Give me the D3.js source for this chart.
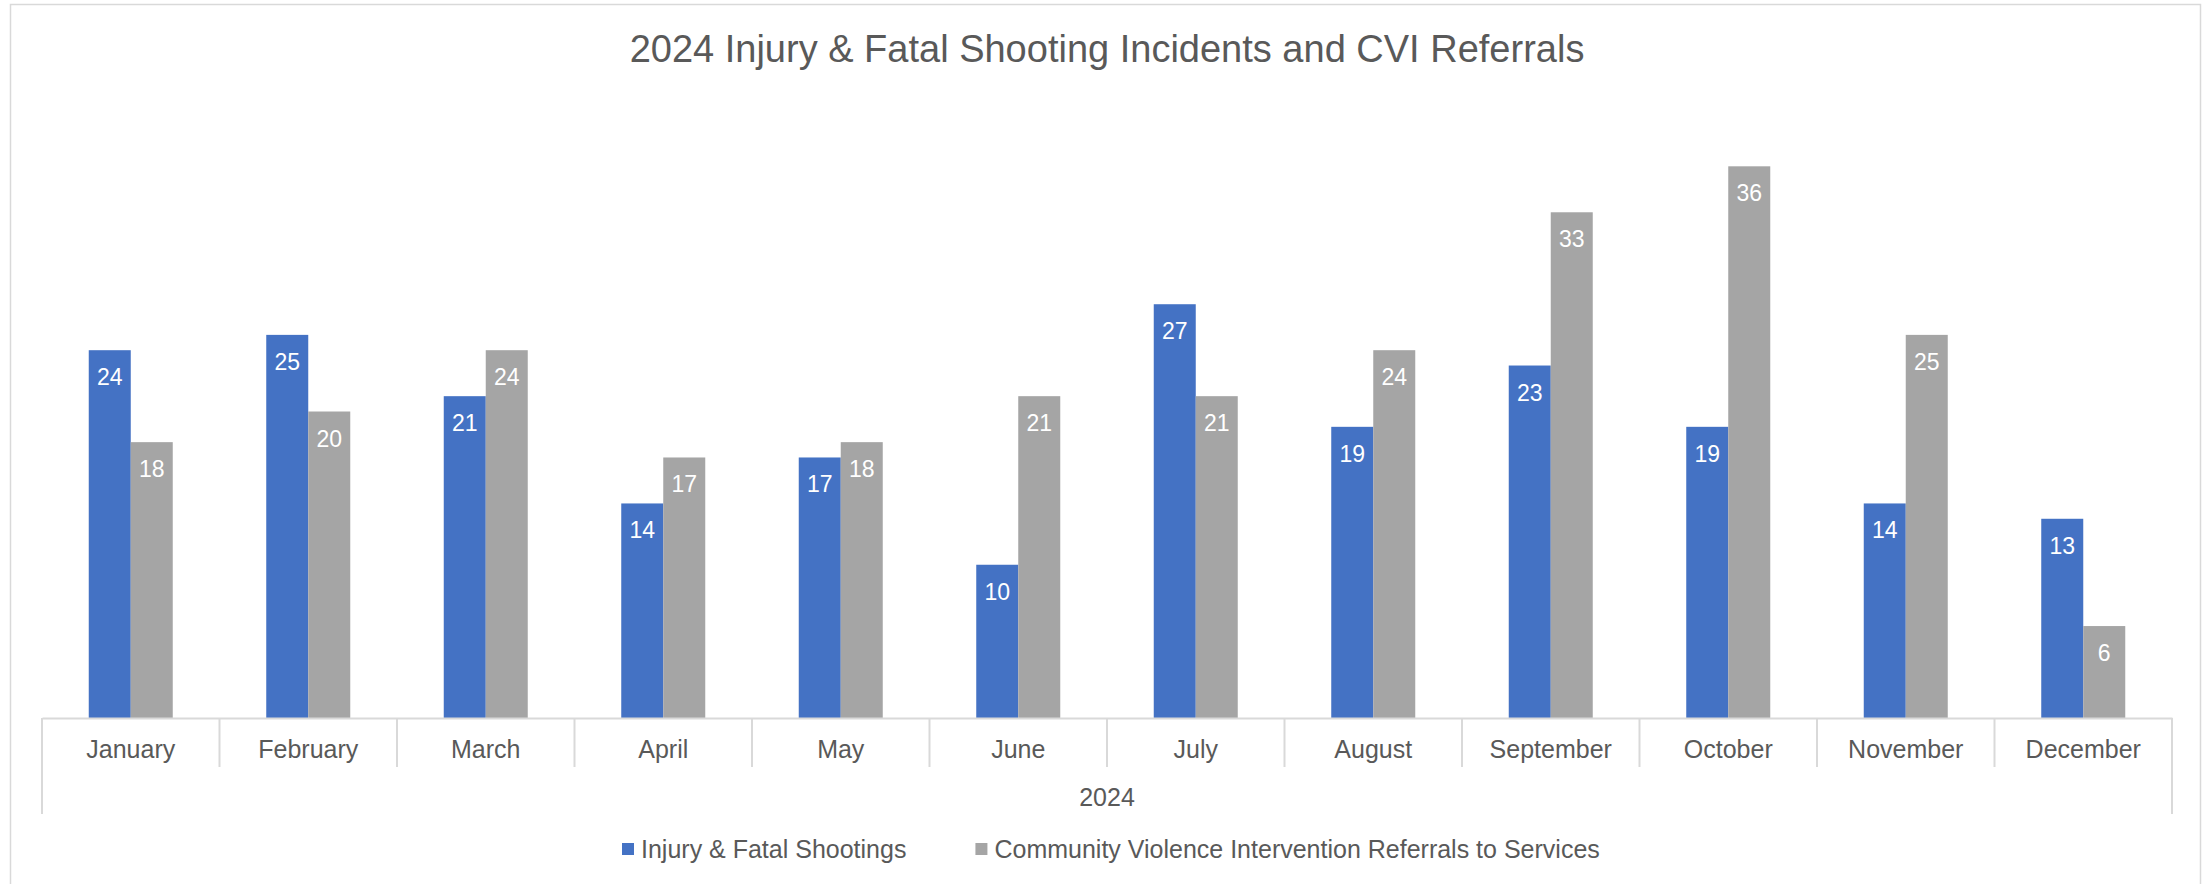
<!DOCTYPE html>
<html>
<head>
<meta charset="utf-8">
<script src="https://cdn.jsdelivr.net/npm/d3@7"></script>
<style>
  body { margin: 0; background: #fff; }
  svg text { font-family: "Liberation Sans", Arial, sans-serif; }
</style>
</head>
<body>
<div id="chart"></div>
<script>
// chart values
let months = ["January", "February", "March", "April", "May", "June",
    "July", "August", "September", "October", "November", "December"]
let shootings = [24, 25, 21, 14, 17, 10, 27, 19, 23, 19, 14, 13]
let referrals = [18, 20, 24, 17, 18, 21, 21, 24, 33, 36, 25, 6]
let seriesNames = ["Injury & Fatal Shootings", "Community Violence Intervention Referrals to Services"]
let seriesColors = ["#4472C4", "#A5A5A5"]
let yearLabel = "2024"
let chartTitle = "2024 Injury & Fatal Shooting Incidents and CVI Referrals"

let width = 2208, height = 884
let padding = { left: 42, right: 36, top: 105, baseline: 718 }

let svg = d3.select("#chart").append("svg")
    .attr("width", width).attr("height", height)

// outer chart border
svg.append("rect")
    .attr("x", 10.5).attr("y", 4.5)
    .attr("width", 2190).attr("height", 900)
    .attr("fill", "none").attr("stroke", "#d9d9d9").attr("stroke-width", 1.5)

// title
svg.append("text")
    .attr("x", 1107).attr("y", 62)
    .attr("text-anchor", "middle")
    .attr("font-size", 38)
    .attr("fill", "#595959")
    .text(chartTitle)

// scales
let x0 = d3.scaleBand().domain(months)
    .range([padding.left, width - padding.right])
    .paddingInner(0).paddingOuter(0)
let x1 = d3.scaleBand().domain([0, 1])
    .range([0, x0.bandwidth()])
    .paddingInner(0).paddingOuter(1.113)
let y = d3.scaleLinear().domain([0, 40]).range([padding.baseline, padding.top])

let rows = months.map(function(m, i) { return { month: m, values: [shootings[i], referrals[i]] } })

let groups = svg.selectAll(".month-group")
    .data(rows)
    .enter().append("g")
    .attr("class", "month-group")
    .attr("transform", function(d) { return `translate(${x0(d.month)},0)` })

groups.selectAll("rect")
    .data(function(d) { return d.values.map(function(v, s) { return { s: s, v: v } }) })
    .enter().append("rect")
    .attr("x", function(d) { return x1(d.s) })
    .attr("width", x1.bandwidth())
    .attr("y", function(d) { return y(d.v) })
    .attr("height", function(d) { return y(0) - y(d.v) })
    .attr("fill", function(d) { return seriesColors[d.s] })

// data labels, inside end
groups.selectAll(".bar-label")
    .data(function(d) { return d.values.map(function(v, s) { return { s: s, v: v } }) })
    .enter().append("text")
    .attr("class", "bar-label")
    .attr("x", function(d) { return x1(d.s) + x1.bandwidth() / 2 })
    .attr("y", function(d) { return y(d.v) + 35 })
    .attr("text-anchor", "middle")
    .attr("font-size", 23)
    .attr("fill", "#fff")
    .text(function(d) { return d.v })

// category axis (two levels)
let xAxis = d3.axisBottom(x0).tickSize(0).tickPadding(0)
let axisG = svg.append("g")
    .attr("transform", `translate(0,${padding.baseline})`)
    .call(xAxis)
axisG.select(".domain").attr("stroke", "#d9d9d9").attr("stroke-width", 2)
axisG.selectAll(".tick text")
    .attr("y", 40)
    .attr("dy", 0)
    .attr("font-size", 25)
    .attr("font-family", "Liberation Sans, Arial, sans-serif")
    .attr("fill", "#595959")

// dividers between months
let edges = months.map(function(m) { return x0(m) }).concat([x0.range()[1]])
svg.selectAll(".divider")
    .data(edges)
    .enter().append("line")
    .attr("class", "divider")
    .attr("x1", function(d) { return d }).attr("x2", function(d) { return d })
    .attr("y1", padding.baseline)
    .attr("y2", function(d, i) { return (i == 0 || i == edges.length - 1) ? 814 : 767 })
    .attr("stroke", "#d9d9d9").attr("stroke-width", 2)

// year label
svg.append("text")
    .attr("x", (x0.range()[0] + x0.range()[1]) / 2)
    .attr("y", 806)
    .attr("text-anchor", "middle")
    .attr("font-size", 25)
    .attr("fill", "#595959")
    .text(yearLabel)

// legend
let legend = svg.append("g").attr("transform", "translate(622,0)")
let lx = 0
seriesNames.forEach(function(name, i) {
    legend.append("rect")
        .attr("x", lx).attr("y", 843)
        .attr("width", 12).attr("height", 12)
        .attr("fill", seriesColors[i])
    let t = legend.append("text")
        .attr("x", lx + 19).attr("y", 858)
        .attr("font-size", 25)
        .attr("fill", "#595959")
        .text(name)
    lx += 19 + t.node().getComputedTextLength() + 69
})
</script>
</body>
</html>
